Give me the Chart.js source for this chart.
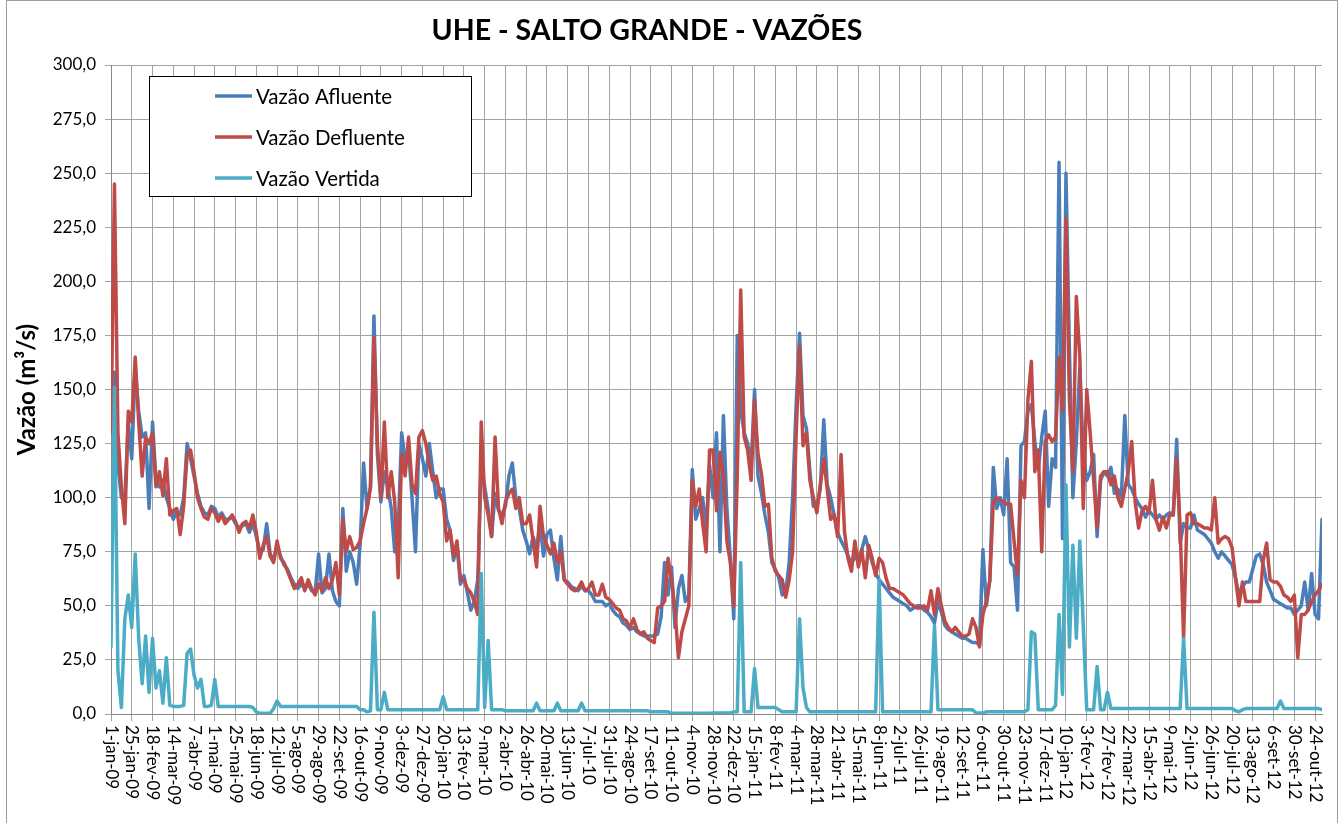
<!DOCTYPE html>
<html>
<head>
<meta charset="utf-8">
<script src="https://cdn.jsdelivr.net/npm/chart.js@4.4.1/dist/chart.umd.min.js"></script>
<style>
  html, body { margin: 0; padding: 0; background: #fff; }
  #wrap { width: 1343px; height: 823px; }
</style>
</head>
<body>
<div id="wrap"><canvas id="chart" width="1343" height="823"></canvas></div>
<script>
// one sample every 4 days, starting 1-jan-09
const STEP_DAYS = 4;
const TICK_EVERY_DAYS = 24;

const tickLabels = [
  "1-jan-09", "25-jan-09", "18-fev-09", "14-mar-09", "7-abr-09", "1-mai-09", "25-mai-09", "18-jun-09",
  "12-jul-09", "5-ago-09", "29-ago-09", "22-set-09", "16-out-09", "9-nov-09", "3-dez-09", "27-dez-09",
  "20-jan-10", "13-fev-10", "9-mar-10", "2-abr-10", "26-abr-10", "20-mai-10", "13-jun-10", "7-jul-10",
  "31-jul-10", "24-ago-10", "17-set-10", "11-out-10", "4-nov-10", "28-nov-10", "22-dez-10",
  "15-jan-11", "8-fev-11", "4-mar-11", "28-mar-11", "21-abr-11", "15-mai-11", "8-jun-11", "2-jul-11",
  "26-jul-11", "19-ago-11", "12-set-11", "6-out-11", "30-out-11", "23-nov-11", "17-dez-11",
  "10-jan-12", "3-fev-12", "27-fev-12", "22-mar-12", "15-abr-12", "9-mai-12", "2-jun-12", "26-jun-12",
  "20-jul-12", "13-ago-12", "6-set-12", "30-set-12", "24-out-12"
];

const vazaoAfluente = [
  150, 158, 115, 100, 100, 135,
  118, 160, 140, 128, 130, 95,
  135, 108, 105, 108, 100, 95,
  90, 94, 92, 100, 125, 118,
  110, 102, 96, 93, 92, 96,
  95, 91, 93, 90, 90, 91,
  88, 86, 87, 88, 84, 88,
  82, 75, 76, 88, 74, 71,
  78, 73, 69, 67, 63, 60,
  58, 60, 58, 60, 57, 56,
  74, 56, 58, 74, 57, 52,
  50, 95, 66, 75, 70, 60,
  78, 116, 95, 105, 184, 120,
  98, 112, 105, 95, 75, 85,
  130, 118, 122, 100, 75, 125,
  118, 110, 125, 112, 100, 104,
  104, 90, 85, 71, 78, 60,
  64, 56, 48, 52, 62, 115,
  105, 95, 82, 102, 94, 92,
  96, 110, 116, 100, 95, 85,
  80, 74, 82, 76, 88, 73,
  83, 85, 72, 62, 82, 62,
  61, 59, 58, 57, 59, 57,
  57, 55, 52, 52, 52, 50,
  51, 48, 46, 45, 42, 41,
  39, 40, 38, 37, 36, 36,
  36, 36, 37, 45, 70, 55,
  68, 40, 58, 64, 52, 55,
  113, 90, 95, 100, 85, 115,
  100, 130, 75, 138, 95, 72,
  44, 175, 140, 130, 125, 114,
  150, 110, 102, 92, 84, 70,
  67, 63, 55, 56, 70, 100,
  142, 176, 138, 132, 112, 96,
  96, 104, 136, 106, 100, 92,
  84, 80, 77, 73, 70, 72,
  72, 76, 82, 76, 70, 65,
  62, 60, 58, 56, 54, 53,
  52, 51, 50, 48, 49, 50,
  50, 48, 47, 45, 42, 52,
  47, 41, 39, 38, 37, 36,
  35, 35, 34, 33, 33, 32,
  76, 50, 62, 114, 95, 100,
  92, 118, 70, 68, 48, 124,
  126, 140, 143, 126, 113, 128,
  140, 96, 118, 114, 255, 81,
  250, 168, 100, 126, 160, 120,
  108, 112, 120, 82, 108, 112,
  110, 114, 102, 104, 100, 138,
  106, 104, 100, 97, 95, 91,
  94, 92, 90, 92, 90, 92,
  93, 92, 127, 79, 88, 86,
  86, 92, 85, 84, 83, 81,
  79, 75, 72, 75, 73, 71,
  69, 63, 55, 59, 61, 61,
  67, 73, 74, 69, 61, 57,
  53, 52, 51, 50, 49, 49,
  46, 48, 50, 61, 48, 65,
  46, 44, 90
];

const vazaoDefluente = [
  130, 245, 130, 105, 88, 140,
  135, 165, 135, 110, 128, 125,
  130, 105, 112, 101, 118, 92,
  94, 95, 83, 96, 120, 122,
  112, 100, 95, 91, 90, 95,
  93, 89, 92, 88, 90, 92,
  89, 84, 88, 89, 86, 92,
  84, 72, 78, 82, 73, 70,
  80, 72, 70, 66, 62, 58,
  60, 63, 57, 62, 58, 55,
  60, 57, 63, 58, 62, 70,
  55, 90, 75, 82, 76, 77,
  80, 88, 95, 105, 174, 125,
  100, 135, 100, 112, 98, 63,
  120, 110, 128, 106, 102, 128,
  131, 125, 115, 108, 110, 102,
  98, 80, 85, 73, 80, 62,
  62, 58, 56, 52, 46, 135,
  100, 92, 82, 128, 95, 88,
  98, 102, 104, 95, 100, 88,
  88, 92, 80, 68, 96, 82,
  78, 74, 79, 70, 75, 62,
  60, 58, 57, 58, 61, 57,
  58, 61, 55, 55, 60, 54,
  53, 51, 49, 48, 44, 43,
  40, 44, 39, 37, 38, 35,
  34, 33, 49, 50, 52, 72,
  62, 48, 26, 38, 44, 50,
  108, 96, 104, 88, 75, 122,
  122, 94, 121, 110, 80, 70,
  50, 110, 196, 128, 122, 108,
  145, 120, 111, 96, 97, 72,
  66, 64, 62, 54, 62, 75,
  128, 170, 124, 130, 108, 100,
  93, 106, 118, 104, 90, 92,
  82, 120, 84, 72, 66, 80,
  68, 76, 63, 78, 72, 64,
  72, 70, 63, 58, 58, 57,
  56, 55, 53, 51, 50, 49,
  49, 50, 48, 57, 46, 58,
  50, 43, 40, 38, 40, 38,
  36, 36, 37, 44, 40, 31,
  46, 52, 62, 98, 100, 99,
  98, 97, 97, 80, 64, 108,
  100, 145, 163, 112, 122, 75,
  126, 129, 126, 128, 165, 140,
  229, 145, 112, 193, 165, 95,
  150, 130, 108, 86, 110, 112,
  112, 106, 110, 100, 96, 104,
  112, 126, 98, 86, 94, 96,
  93, 108, 90, 85, 91, 86,
  92, 92, 118, 86, 35, 92,
  93, 88, 88, 87, 86, 86,
  85, 100, 79, 81, 82, 81,
  77, 63, 50, 61, 52, 52,
  52, 52, 52, 71, 79, 62,
  61, 61, 59, 55, 54, 52,
  55, 26, 46, 46, 48, 52,
  55, 57, 60
];

const vazaoVertida = [
  31, 151, 20, 3, 44, 55,
  40, 74, 35, 14, 36, 10,
  35, 12, 20, 5, 26, 4,
  3.5, 3.5, 3.5, 4, 28, 30,
  18, 12, 16, 3.5, 3.5, 4,
  16, 3.5, 3.5, 3.5, 3.5, 3.5,
  3.5, 3.5, 3.5, 3.5, 3.5, 3,
  1, 0.3, 0.3, 0.3, 0.3, 2.5,
  6, 3.5, 3.5, 3.5, 3.5, 3.5,
  3.5, 3.5, 3.5, 3.5, 3.5, 3.5,
  3.5, 3.5, 3.5, 3.5, 3.5, 3.5,
  3.5, 3.5, 3.5, 3.5, 3.5, 3.5,
  2, 2, 1, 1.5, 47, 2,
  2, 10, 2, 2, 2, 2,
  2, 2, 2, 2, 2, 2,
  2, 2, 2, 2, 2, 2,
  8, 2, 2, 2, 2, 2,
  2, 2, 2, 2, 2, 65,
  3, 34, 2, 2, 2, 2,
  1.5, 1.5, 1.5, 1.5, 1.5, 1.5,
  1.5, 1.5, 1.5, 5, 1.5, 1.5,
  1.5, 1.5, 1.5, 5, 1.5, 1.5,
  1.5, 1.5, 1.5, 1.5, 5, 1.5,
  1.5, 1.5, 1.5, 1.5, 1.5, 1.5,
  1.5, 1.5, 1.5, 1.5, 1.5, 1.5,
  1.5, 1.5, 1.5, 1.5, 1.5, 1.5,
  1, 1, 1, 1, 1, 1,
  0.3, 0.3, 0.3, 0.3, 0.3, 0.3,
  0.3, 0.3, 0.3, 0.3, 0.3, 0.3,
  0.5, 0.5, 0.5, 0.5, 0.5, 0.5,
  1, 1, 70, 1, 1, 1,
  21, 3, 3, 3, 3, 3,
  3, 2, 1, 1, 1, 1,
  1, 44, 12, 3, 1, 1,
  1, 1, 1, 1, 1, 1,
  1, 1, 1, 1, 1, 1,
  1, 1, 1, 1, 1, 1,
  62, 1, 1, 1, 1, 1,
  1, 1, 1, 1, 1, 1,
  1, 1, 1, 1, 41, 2,
  2, 2, 2, 2, 2, 2,
  2, 2, 2, 2, 0.5, 0.5,
  0.5, 1, 1, 1, 1, 1,
  1, 1, 1, 1, 1, 1,
  1, 2, 38, 37, 2, 2,
  2, 2, 2, 4, 46, 9,
  106, 31, 78, 35, 80, 41,
  2, 2, 2, 22, 2, 2,
  10, 2.5, 2.5, 2.5, 2.5, 2.5,
  2.5, 2.5, 2.5, 2.5, 2.5, 2.5,
  2.5, 2.5, 2.5, 2.5, 2.5, 2.5,
  2.5, 2.5, 2.5, 2.5, 35, 2.5,
  2.5, 2.5, 2.5, 2.5, 2.5, 2.5,
  2.5, 2.5, 2.5, 2.5, 2.5, 2.5,
  2.5, 1.5, 1, 2, 2.5, 2.5,
  2.5, 2.5, 2.5, 2.5, 2.5, 2.5,
  2.5, 2.5, 6, 2.5, 2.5, 2.5,
  2.5, 2.5, 2.5, 2.5, 2.5, 2.5,
  2.5, 2.5, 2
];

const TITLE = "UHE - SALTO GRANDE - VAZÕES";
const FONT = "Lato, 'Open Sans', sans-serif";
const GRID = "#a3a3a3";

const toPoints = (arr) => arr.map((v, i) => ({ x: i * STEP_DAYS, y: v }));

function lineDataset(label, values, color, order) {
  return {
    label,
    data: toPoints(values),
    borderColor: color,
    backgroundColor: color,
    borderWidth: 3.5,
    borderJoinStyle: "round",
    borderCapStyle: "round",
    pointRadius: 0,
    tension: 0,
    order,
  };
}

// frame, title, rotated date labels and the boxed legend
const excelLook = {
  id: "excelLook",
  beforeDraw(chart) {
    const ctx = chart.ctx;
    ctx.save();
    ctx.fillStyle = "#fff";
    ctx.fillRect(0, 0, chart.width, chart.height);
    ctx.strokeStyle = "#9c9c9c";
    ctx.lineWidth = 1;
    ctx.strokeRect(6.5, 0.5, 1331, 840);
    ctx.restore();
  },
  afterDraw(chart) {
    const ctx = chart.ctx;
    const x = chart.scales.x;
    const area = chart.chartArea;

    ctx.save();
    ctx.fillStyle = "#000";
    ctx.font = "bold 28.5px " + FONT;
    ctx.textAlign = "center";
    ctx.textBaseline = "middle";
    ctx.fillText(TITLE, 647, 31);

    ctx.font = "17px " + FONT;
    ctx.textAlign = "left";
    ctx.textBaseline = "middle";
    x.ticks.forEach((tick, i) => {
      const px = x.getPixelForValue(tick.value);
      ctx.save();
      ctx.translate(px, area.bottom + 11);
      ctx.rotate(Math.PI / 2);
      ctx.fillText(tickLabels[i], 0, 0);
      ctx.restore();
    });

    const box = { left: 149.5, top: 76.5, width: 322, height: 120 };
    ctx.fillStyle = "#fff";
    ctx.fillRect(box.left, box.top, box.width, box.height);
    ctx.strokeStyle = "#000";
    ctx.lineWidth = 1;
    ctx.strokeRect(box.left, box.top, box.width, box.height);

    ctx.font = "20.5px " + FONT;
    chart.data.datasets.forEach((ds, i) => {
      const y = 96 + i * 41;
      ctx.strokeStyle = ds.borderColor;
      ctx.lineWidth = 3.5;
      ctx.beginPath();
      ctx.moveTo(215, y);
      ctx.lineTo(252, y);
      ctx.stroke();
      ctx.fillStyle = "#000";
      ctx.fillText(ds.label, 256, y + 1);
    });
    ctx.restore();
  },
};

new Chart(document.getElementById("chart").getContext("2d"), {
  type: "line",
  data: {
    datasets: [
      lineDataset("Vazão Afluente", vazaoAfluente, "#4a7ebb", 3),
      lineDataset("Vazão Defluente", vazaoDefluente, "#be4b48", 2),
      lineDataset("Vazão Vertida", vazaoVertida, "#4bacc6", 1),
    ],
  },
  plugins: [excelLook],
  options: {
    responsive: false,
    animation: false,
    devicePixelRatio: 1,
    layout: { padding: { top: 65, right: 21, bottom: 0, left: 0 } },
    plugins: {
      legend: { display: false },
      title: { display: false },
      tooltip: { enabled: false },
    },
    scales: {
      x: {
        type: "linear",
        min: 0,
        max: 1400,
        afterBuildTicks: (scale) => {
          scale.ticks = tickLabels.map((_, i) => ({ value: i * TICK_EVERY_DAYS }));
        },
        afterFit: (scale) => { scale.height = 109; },
        ticks: { display: false },
        grid: { color: GRID, lineWidth: 1, drawTicks: true, tickLength: 7, tickColor: GRID },
        border: { display: true, color: "#868686" },
      },
      y: {
        min: 0,
        max: 300,
        afterFit: (scale) => { scale.width = 111; },
        ticks: {
          stepSize: 25,
          color: "#000",
          padding: 9,
          font: { family: FONT, size: 17 },
          callback: (v) => v.toFixed(1).replace(".", ","),
        },
        grid: { color: GRID, lineWidth: 1, drawTicks: true, tickLength: 6, tickColor: GRID },
        border: { display: true, color: "#868686" },
        title: {
          display: true,
          text: "Vazão (m³/s)",
          color: "#000",
          font: { family: FONT, size: 24, weight: "bold" },
          padding: { top: 13, bottom: 0 },
        },
      },
    },
  },
});
</script>
</body>
</html>
